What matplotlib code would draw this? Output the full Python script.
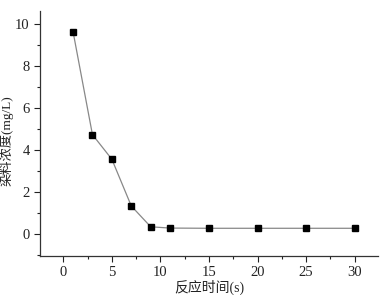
import matplotlib
matplotlib.use("Agg")
import matplotlib.pyplot as plt
from matplotlib.ticker import MultipleLocator

time_s = [1, 3, 5, 7, 9, 11, 15, 20, 25, 30]
conc = [9.62, 4.72, 3.55, 1.33, 0.34, 0.28, 0.27, 0.27, 0.27, 0.27]
x_label = "反应时间(s)"
y_label = "染料浓度(mg/L)"

plt.rcParams['font.family'] = ['Liberation Serif', 'Noto Sans CJK SC']

fig = plt.figure(figsize=(3.81, 2.95), dpi=100)
ax = fig.add_axes([0.105, 0.132, 0.887, 0.831])
ax.plot(time_s, conc, color='#888888', lw=0.9, marker='s', ms=4.5,
        mfc='black', mec='black', zorder=3)
ax.set_xlim(-2.4, 32.4)
ax.set_ylim(-1.05, 10.6)
ax.xaxis.set_major_locator(MultipleLocator(5))
ax.xaxis.set_minor_locator(MultipleLocator(2.5))
ax.yaxis.set_major_locator(MultipleLocator(2))
ax.yaxis.set_minor_locator(MultipleLocator(1))
for s in ['top', 'right']:
    ax.spines[s].set_visible(False)
for s in ['left', 'bottom']:
    ax.spines[s].set_linewidth(0.9)
    ax.spines[s].set_color('#333333')
ax.tick_params(which='major', direction='out', length=4, width=0.8, labelsize=10.5, colors='#222222')
ax.tick_params(which='minor', direction='out', length=2.5, width=0.8, colors='#222222')
ax.set_xlabel(x_label, fontsize=10, color='#222222', labelpad=0.5,
              family=['Liberation Serif', 'Noto Sans CJK SC'])
ax.set_ylabel(y_label, fontsize=9.5, color='#222222',
              family=['Liberation Serif', 'Noto Sans CJK SC'])
ax.yaxis.set_label_coords(-0.077, 0.47)
fig.savefig("out.png", dpi=100)
